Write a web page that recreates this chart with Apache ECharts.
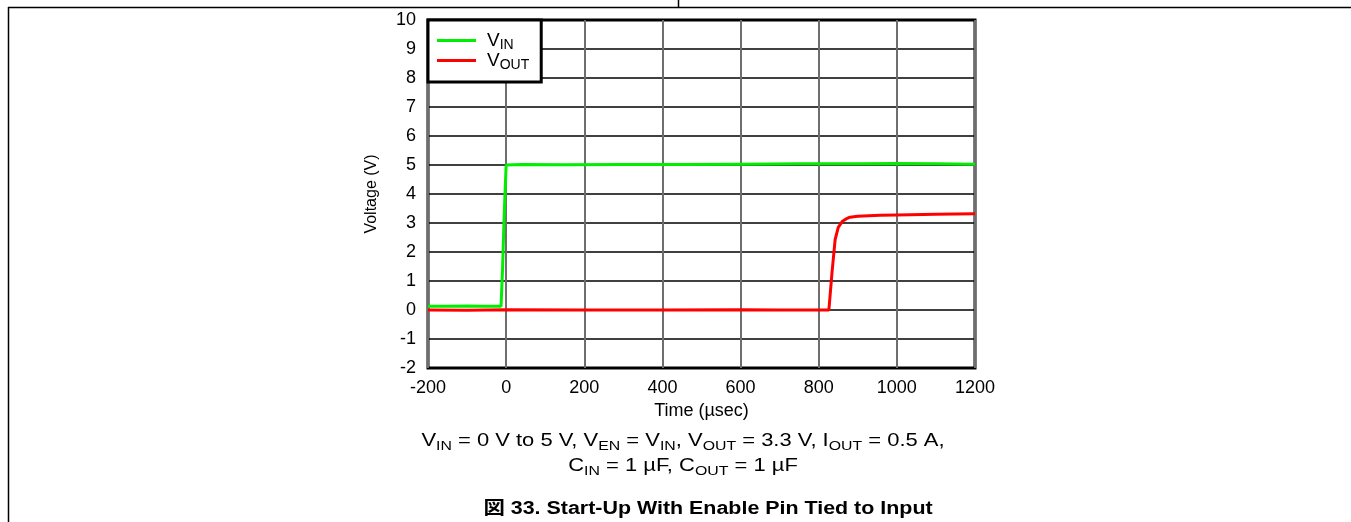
<!DOCTYPE html>
<html>
<head>
<meta charset="utf-8">
<script src="https://cdn.jsdelivr.net/npm/echarts@6/dist/echarts.min.js"></script>
<style>
html,body{margin:0;padding:0;background:#fff;}
#c{width:1351px;height:522px;}
</style>
</head>
<body>
<div id="c"></div>
<script>
// ---- data ----
var xTicks = [-200, 0, 200, 400, 600, 800, 1000, 1200];
var yTicks = [-2, -1, 0, 1, 2, 3, 4, 5, 6, 7, 8, 9, 10];
var vinTime  = [-200, -150, -100, -60, -13, -9, -5, 0, 40, 150, 300, 450, 600, 750, 900, 1000, 1100, 1200];
var vinVolt  = [0.13, 0.13, 0.14, 0.13, 0.13, 1.5, 3.3, 5.0, 5.02, 5.01, 5.02, 5.02, 5.03, 5.04, 5.04, 5.05, 5.04, 5.03];
var voutTime = [-200, -100, 0, 200, 400, 600, 700, 826, 834, 842, 850, 860, 870, 880, 900, 957, 1000, 1100, 1200];
var voutVolt = [0.0, -0.01, 0.01, 0.0, 0.0, 0.01, 0.0, 0.0, 1.29, 2.43, 2.85, 3.05, 3.14, 3.2, 3.23, 3.27, 3.28, 3.3, 3.32];

function pairs(xs, ys) { return xs.map(function (x, i) { return [x, ys[i]]; }); }

var FONT = '"Liberation Sans", Arial, "Noto Sans CJK JP", sans-serif';
var rich = {
  n: { fontFamily: FONT, fontSize: 18, color: '#000', lineHeight: 24, verticalAlign: 'middle' },
  s: { fontFamily: FONT, fontSize: 13, color: '#000', lineHeight: 9, verticalAlign: 'bottom' }
};
var legendRich = {
  n: { fontFamily: FONT, fontSize: 19, color: '#000', lineHeight: 23, verticalAlign: 'middle' },
  s: { fontFamily: FONT, fontSize: 14, color: '#000', lineHeight: 10, verticalAlign: 'bottom' }
};

var chart = echarts.init(document.getElementById('c'), null, { renderer: 'canvas' });
chart.setOption({
  backgroundColor: '#fff',
  animation: false,
  grid: {
    left: 428, right: 376, top: 20, height: 348,
    show: true, borderColor: '#000', borderWidth: 3, backgroundColor: 'transparent',
    containLabel: false
  },
  legend: {
    orient: 'vertical',
    left: 428, top: 20,
    padding: [11, 12, 10, 9],
    itemGap: -1,
    itemWidth: 39, itemHeight: 3,
    backgroundColor: '#fff',
    borderColor: '#000', borderWidth: 3, borderRadius: 0,
    data: [
      { name: 'VIN', icon: 'rect' },
      { name: 'VOUT', icon: 'rect' }
    ],
    formatter: function (name) { return '{n|V}{s|' + name.slice(1) + '}'; },
    textStyle: { rich: legendRich, padding: [0, 0, 0, 6] }
  },
  xAxis: {
    type: 'value', min: -200, max: 1200, interval: 200,
    name: 'Time (\u00b5sec)', nameLocation: 'middle', nameGap: 34,
    nameTextStyle: { fontFamily: FONT, fontSize: 18, color: '#000' },
    axisLine: { show: false }, axisTick: { show: false },
    axisLabel: { fontFamily: FONT, fontSize: 18, color: '#000', margin: 11,
      formatter: function (v) { return xTicks.indexOf(v) >= 0 ? String(v) : ''; } },
    splitLine: { show: true, lineStyle: { color: '#6e6e6e', width: 2 } }
  },
  yAxis: {
    type: 'value', min: -2, max: 10, interval: 1,
    name: 'Voltage (V)', nameLocation: 'middle', nameGap: 48, nameRotate: 90,
    nameTextStyle: { fontFamily: FONT, fontSize: 16, color: '#000' },
    axisLine: { show: false }, axisTick: { show: false },
    axisLabel: { fontFamily: FONT, fontSize: 18, color: '#000', margin: 12,
      formatter: function (v) { return yTicks.indexOf(v) >= 0 ? String(v) : ''; } },
    splitLine: { show: true, lineStyle: { color: '#000', width: 1.5 } }
  },
  series: [
    { name: 'VIN', type: 'line', data: pairs(vinTime, vinVolt), symbol: 'none',
      lineStyle: { color: '#00ee00', width: 3 }, itemStyle: { color: '#00ee00' }, z: 3 },
    { name: 'VOUT', type: 'line', data: pairs(voutTime, voutVolt), symbol: 'none',
      lineStyle: { color: '#ff0000', width: 3 }, itemStyle: { color: '#ff0000' }, z: 4 }
  ],
  graphic: [
    { type: 'line', shape: { x1: 8, y1: 7.5, x2: 1351, y2: 7.5 }, style: { stroke: '#000', lineWidth: 1.5 }, silent: true },
    { type: 'line', shape: { x1: 8.5, y1: 7, x2: 8.5, y2: 522 }, style: { stroke: '#000', lineWidth: 1.5 }, silent: true },
    { type: 'line', shape: { x1: 678.5, y1: 0, x2: 678.5, y2: 7 }, style: { stroke: '#000', lineWidth: 1.5 }, silent: true },
    { type: 'text', x: 683, y: 441, scaleX: 1.22,
      style: { text: '{n|V}{s|IN}{n| = 0 V to 5 V, V}{s|EN}{n| = V}{s|IN}{n|, V}{s|OUT}{n| = 3.3 V, I}{s|OUT}{n| = 0.5 A,}',
        rich: rich, align: 'center', verticalAlign: 'middle' } },
    { type: 'text', x: 683, y: 466, scaleX: 1.22,
      style: { text: '{n|C}{s|IN}{n| = 1 \u00b5F, C}{s|OUT}{n| = 1 \u00b5F}',
        rich: rich, align: 'center', verticalAlign: 'middle' } },
    { type: 'text', x: 708, y: 509, scaleX: 1.19,
      style: { text: '\u56f3 33. Start-Up With Enable Pin Tied to Input', fontFamily: FONT, fontSize: 18, fontWeight: 'bold',
        fill: '#000', align: 'center', verticalAlign: 'middle' } }
  ]
});
</script>
</body>
</html>
